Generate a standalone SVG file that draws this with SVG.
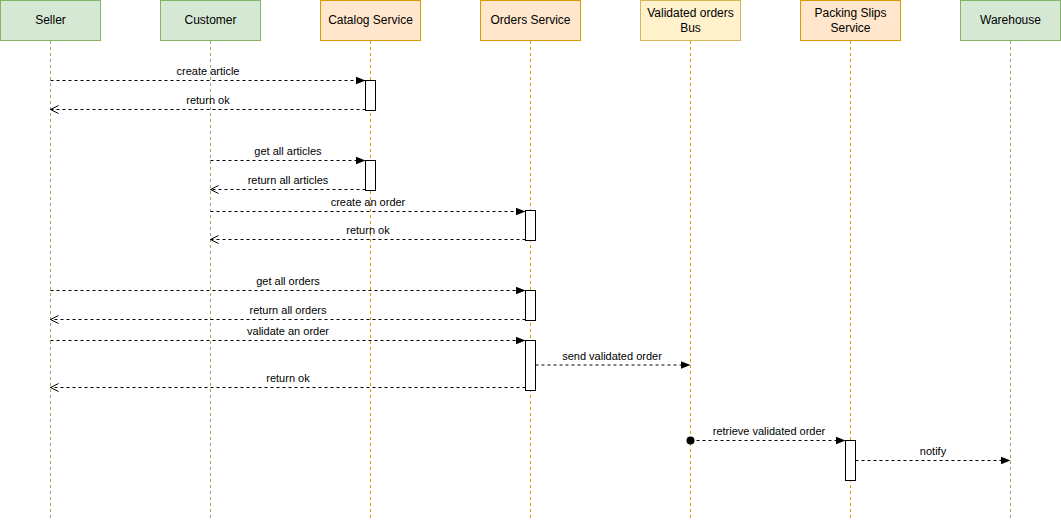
<svg xmlns="http://www.w3.org/2000/svg" width="1061" height="521" viewBox="0 0 1061 521">
<style>
.hdr{font-family:"Liberation Sans",Arial,sans-serif;font-size:12px;fill:#000;text-anchor:middle}
.lbl{font-family:"Liberation Sans",Arial,sans-serif;font-size:11px;fill:#000;text-anchor:middle}
.g{fill:#d5e8d4;stroke:#82b366}
.o{fill:#ffe6cc;stroke:#d79b00}
.y{fill:#fff2cc;stroke:#d6b656}
.lg{stroke:#82b366;stroke-dasharray:3 3;fill:none}
.lo{stroke:#d79b00;stroke-dasharray:3 3;fill:none}
.act{fill:#fff;stroke:#000}
.msg{stroke:#000;stroke-dasharray:3 3;fill:none}
.call{marker-end:url(#fa)}
.ret{marker-end:url(#oa)}
</style>
<defs>
<marker id="fa" viewBox="0 0 10 10" refX="10" refY="5" markerWidth="10" markerHeight="10" markerUnits="userSpaceOnUse" orient="auto">
<path d="M0,1 L10,5 L0,9 Z" fill="#000"/>
</marker>
<marker id="oa" viewBox="0 0 10 10" refX="9" refY="5" markerWidth="10" markerHeight="10" markerUnits="userSpaceOnUse" orient="auto">
<path d="M1,1 L9,5 L1,9" fill="none" stroke="#000"/>
</marker>
</defs>
<g id="seller"><rect class="g" x="0.5" y="0.5" width="100" height="40"/><line class="lg" x1="50.5" y1="41" x2="50.5" y2="521"/><text class="hdr" x="50.5" y="24">Seller</text></g>
<g id="customer"><rect class="g" x="160.5" y="0.5" width="100" height="40"/><line class="lg" x1="210.5" y1="41" x2="210.5" y2="521"/><text class="hdr" x="210.5" y="24">Customer</text></g>
<g id="catalog"><rect class="o" x="320.5" y="0.5" width="100" height="40"/><line class="lo" x1="370.5" y1="41" x2="370.5" y2="521"/><text class="hdr" x="370.5" y="24">Catalog Service</text></g>
<g id="orders"><rect class="o" x="480.5" y="0.5" width="100" height="40"/><line class="lo" x1="530.5" y1="41" x2="530.5" y2="521"/><text class="hdr" x="530.5" y="24">Orders Service</text></g>
<g id="bus"><rect class="y" x="640.5" y="0.5" width="100" height="40"/><line class="lo" x1="690.5" y1="41" x2="690.5" y2="521"/><text class="hdr" x="690.5" y="17">Validated orders</text><text class="hdr" x="690.5" y="32">Bus</text></g>
<g id="packing"><rect class="o" x="800.5" y="0.5" width="100" height="40"/><line class="lo" x1="850.5" y1="41" x2="850.5" y2="521"/><text class="hdr" x="850.5" y="17">Packing Slips</text><text class="hdr" x="850.5" y="32">Service</text></g>
<g id="warehouse"><rect class="g" x="960.5" y="0.5" width="100" height="40"/><line class="lg" x1="1010.5" y1="41" x2="1010.5" y2="521"/><text class="hdr" x="1010.5" y="24">Warehouse</text></g>
<g id="activations">
<rect class="act" x="365.5" y="80.5" width="10" height="30"/>
<rect class="act" x="365.5" y="160.5" width="10" height="30"/>
<rect class="act" x="525.5" y="210.5" width="10" height="30"/>
<rect class="act" x="525.5" y="290.5" width="10" height="30"/>
<rect class="act" x="525.5" y="340.5" width="10" height="50"/>
<rect class="act" x="845.5" y="440.5" width="10" height="40"/>
</g>
<g id="connectors">
<line class="msg call" x1="50.5" y1="80.5" x2="365.5" y2="80.5"/><text class="lbl" x="208" y="75">create article</text>
<line class="msg ret" x1="365.5" y1="109.5" x2="50.5" y2="109.5"/><text class="lbl" x="208" y="104">return ok</text>
<line class="msg call" x1="210.5" y1="160.5" x2="365.5" y2="160.5"/><text class="lbl" x="288" y="155">get all articles</text>
<line class="msg ret" x1="365.5" y1="189.5" x2="210.5" y2="189.5"/><text class="lbl" x="288" y="184">return all articles</text>
<line class="msg call" x1="210.5" y1="211.5" x2="525.5" y2="211.5"/><text class="lbl" x="368" y="206">create an order</text>
<line class="msg ret" x1="525.5" y1="239.5" x2="210.5" y2="239.5"/><text class="lbl" x="368" y="234">return ok</text>
<line class="msg call" x1="50.5" y1="290.5" x2="525.5" y2="290.5"/><text class="lbl" x="288" y="285">get all orders</text>
<line class="msg ret" x1="525.5" y1="319.5" x2="50.5" y2="319.5"/><text class="lbl" x="288" y="314">return all orders</text>
<line class="msg call" x1="50.5" y1="340.5" x2="525.5" y2="340.5"/><text class="lbl" x="288" y="335">validate an order</text>
<line class="msg call" x1="535.5" y1="365" x2="690.5" y2="365" stroke-width="1.2"/><text class="lbl" x="612" y="360">send validated order</text>
<line class="msg ret" x1="525.5" y1="387.5" x2="50.5" y2="387.5"/><text class="lbl" x="288" y="382">return ok</text>
<circle cx="690.5" cy="440.5" r="4" fill="#000"/>
<line class="msg call" x1="690.5" y1="440.5" x2="845.5" y2="440.5"/><text class="lbl" x="769" y="435">retrieve validated order</text>
<line class="msg call" x1="855.5" y1="460.5" x2="1010.5" y2="460.5"/><text class="lbl" x="933" y="455">notify</text>
</g>
</svg>
